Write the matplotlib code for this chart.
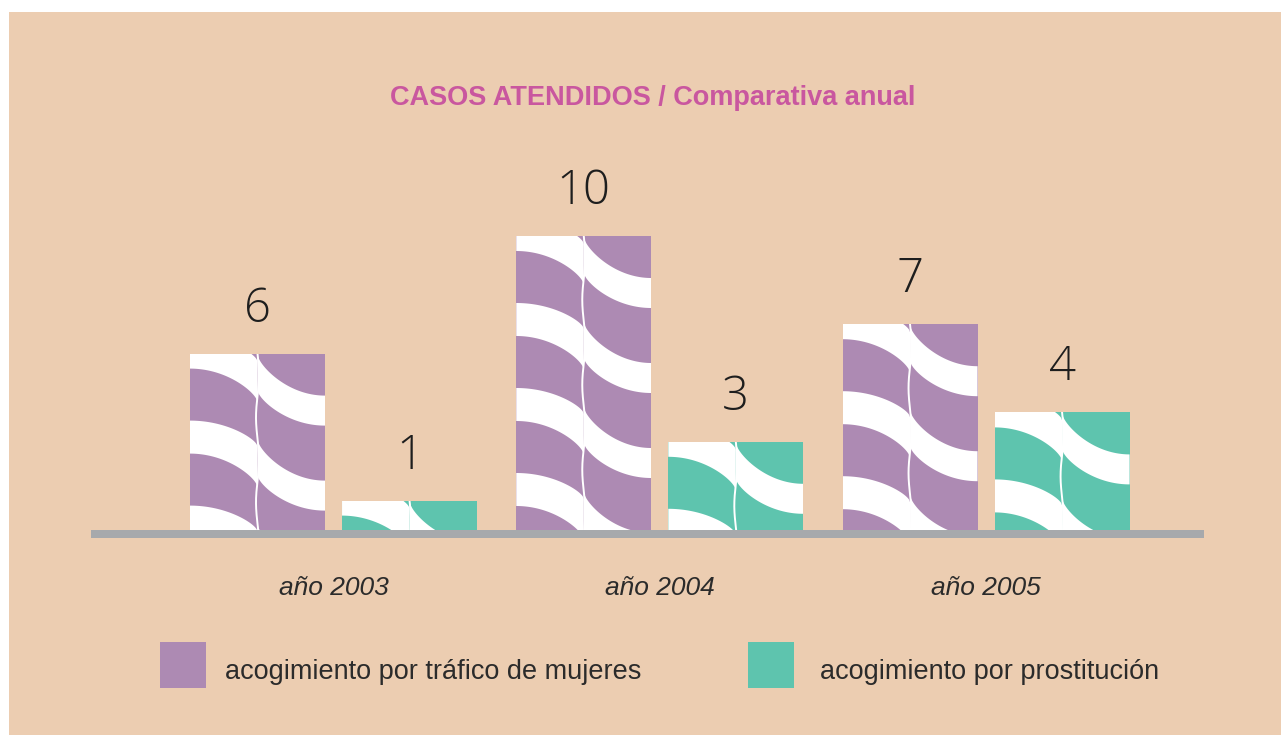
import numpy as np
import matplotlib
matplotlib.use('Agg')
import matplotlib.pyplot as plt
from matplotlib.patches import Rectangle, Polygon
import matplotlib.transforms as mtransforms

# ---- data ----
years = ['año 2003', 'año 2004', 'año 2005']
trafico = [6, 10, 7]
prostitucion = [1, 3, 4]
series_labels = ['acogimiento por tráfico de mujeres', 'acogimiento por prostitución']
title = 'CASOS ATENDIDOS / Comparativa anual'

# ---- style ----
BG = '#ECCDB1'
PURPLE = '#AD8AB3'
GREEN = '#5EC4AE'
GRAY = '#A7A9AC'
TITLE_C = '#C9579F'
TXT = '#2B2B2B'

W, H = 1281, 735
fig = plt.figure(figsize=(W / 100, H / 100), dpi=100, facecolor='white')
fig.patches.append(Rectangle((9 / W, 0), 1 - 9 / W, (H - 12) / H, transform=fig.transFigure,
                             facecolor=BG, edgecolor='none', zorder=-5))

ax = fig.add_axes([91 / W, (H - 530) / H, (1204 - 91) / W, 294 / H])
ax.set_zorder(2)
ax.set_xlim(-0.7433, 2.668)
ax.set_ylim(0, 10)
ax.axis('off')

x = np.arange(len(years))
off, bw = 0.233, 0.4138
bars1 = ax.bar(x - off, trafico, bw, color=PURPLE, zorder=2)
bars2 = ax.bar(x + off, prostitucion, bw, color=GREEN, zorder=2)

# baseline
trans = mtransforms.offset_copy(ax.get_yaxis_transform(), fig=fig, x=0, y=-4, units='dots')
ax.plot([0, 1], [0, 0], transform=trans, color=GRAY, lw=8 * 0.72, solid_capstyle='butt',
        zorder=3, clip_on=False)

# decorative wavy stripes
ppx = ax.transData.transform((1, 0))[0] - ax.transData.transform((0, 0))[0]
ppy = ax.transData.transform((0, 1))[1] - ax.transData.transform((0, 0))[1]


def stripes(rect):
    x0 = rect.get_x()
    wd = rect.get_width()
    top = rect.get_height()
    wpx = wd * ppx
    hpx = top * ppy
    half = wpx / 2
    t = np.linspace(0, 1, 80)
    gl = 0.5 * t ** 2 + 0.5 * (1 - np.sqrt(1 - t ** 2))
    u = 1 - t
    gr = 0.5 * (1 - u ** 2) + 0.5 * np.sqrt(1 - u ** 2)
    P = 85
    for k in range(-1, int(hpx / P) + 2):
        base = P * k
        shapes = [
            (t * half, -18 + base + 26 * gl, 15 + base + 34 * gl),
            (half + t * half, base + 42 * gr, 36 + base + 36 * gr),
        ]
        for xx, a, b in shapes:
            px = np.concatenate([xx, xx[::-1]])
            py = np.concatenate([a, b[::-1]])
            verts = np.column_stack([x0 + px / ppx, top - py / ppy])
            poly = Polygon(verts, closed=True, facecolor='white', edgecolor='none', zorder=2.5)
            ax.add_patch(poly)
            poly.set_clip_path(rect)
    yy = np.linspace(0, hpx, 200)
    xx = half + 1.5 * np.sin(2 * np.pi * yy / P)
    ln, = ax.plot(x0 + xx / ppx, top - yy / ppy, color='white', lw=1.4, zorder=2.6)
    ln.set_clip_path(rect)


for r in list(bars1) + list(bars2):
    stripes(r)

# value labels
for bars, vals in ((bars1, trafico), (bars2, prostitucion)):
    for r, v in zip(bars, vals):
        ax.annotate(str(v), (r.get_x() + r.get_width() / 2, r.get_height()),
                    xytext=(0, 32 * 0.72), textcoords='offset points', ha='center', va='baseline',
                    fontsize=34, color='#1E1E1E', family=['Open Sans', 'DejaVu Sans'],
                    fontweight='light', zorder=4, annotation_clip=False)

# year labels
ytrans = mtransforms.blended_transform_factory(ax.transData, fig.transFigure)
for i, lab in enumerate(years):
    ax.text(i, 1 - 595 / H, lab, transform=ytrans, ha='center', va='baseline',
            fontsize=19, style='italic', color=TXT, family=['Liberation Sans', 'DejaVu Sans'])

# title
fig.text(653 / W, 1 - 105 / H, title, ha='center', va='baseline', fontsize=19.5,
         fontweight='bold', color=TITLE_C, family=['Liberation Sans', 'DejaVu Sans'])

# legend
for (sx, tx), col, lab in zip(((160, 225), (748, 820)), (PURPLE, GREEN), series_labels):
    fig.patches.append(Rectangle((sx / W, 1 - 688 / H), 46 / W, 46 / H, transform=fig.transFigure,
                                 facecolor=col, edgecolor='none', zorder=1))
    fig.text(tx / W, 1 - 679 / H, lab, ha='left', va='baseline', fontsize=19.5, color=TXT,
             family=['Liberation Sans', 'DejaVu Sans'])

fig.savefig('out.png', dpi=100, facecolor='white')
